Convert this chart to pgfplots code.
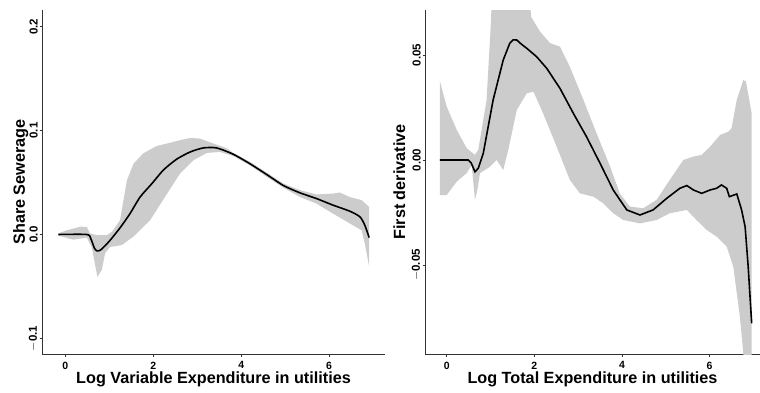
\documentclass[border=0pt]{standalone}
\usepackage{fontspec}
\setmainfont{Liberation Sans}
\usepackage{pgfplots}
\pgfplotsset{compat=1.18}
\usepgfplotslibrary{fillbetween}

\definecolor{bandgray}{RGB}{204,204,204}
\definecolor{axisgray}{RGB}{50,50,50}

\pgfplotsset{
  engel/.style={
    scale only axis,
    axis lines=left,
    axis line style={-, draw=axisgray, line width=0.7pt},
    tick align=outside,
    major tick length=2.5pt,
    tick style={draw=axisgray, line width=0.6pt},
    xtick={0,2,4,6},
    scaled x ticks=false,
    scaled y ticks=false,
    /pgf/number format/assume math mode=true,
    yticklabel style={font=\fontsize{11.5}{13}\selectfont\bfseries, rotate=90, anchor=south, inner sep=1.5pt},
    xticklabel style={font=\fontsize{10.5}{12}\selectfont\bfseries, anchor=north, inner sep=0pt},
    xticklabel shift=5pt,
    label style={font=\fontsize{16.2}{18}\selectfont\bfseries, inner sep=0pt},
    xlabel style={at={(axis description cs:0.5,0)}, anchor=base, yshift=-29pt},
    clip=true,
  }
}

\begin{document}
\begin{tikzpicture}

% Engel curve of the sewerage share
\begin{axis}[engel,
  at={(42pt,38pt)}, anchor=south west,
  width=343pt, height=344pt,
  xmin=-0.53, xmax=7.27, ymin=-0.115, ymax=0.216,
  ytick={-0.1,0,0.1,0.2},
  yticklabels={$-$0.1,0.0,0.1,0.2},
  xlabel={Log Variable Expenditure in utilities},
  ylabel={Share Sewerage},
  ylabel style={at={(axis description cs:-0.0496,0.5)}, anchor=base},
]
\addplot[name path=upA, draw=none] table {
-0.16 0.001
0.03 0.004
0.34 0.0075
0.49 0.0073
0.56 0.001
0.72 -0.0007
0.94 -0.0007
1.06 0.0025
1.245 0.0138
1.40 0.052
1.55 0.068
1.77 0.078
2.08 0.0852
2.31 0.0875
2.61 0.0907
2.84 0.0929
3.06 0.0923
3.37 0.0875
3.67 0.083
3.82 0.0785
4.20 0.070
4.58 0.0595
4.96 0.049
5.34 0.0426
5.71 0.0385
6.09 0.0394
6.24 0.0404
6.47 0.036
6.74 0.033
6.91 0.0265
};
\addplot[name path=loA, draw=none] table {
-0.16 -0.001
0.18 -0.005
0.49 -0.003
0.60 -0.012
0.73 -0.0408
0.83 -0.034
0.905 -0.018
1.02 -0.012
1.28 -0.0103
1.55 -0.002
1.93 0.0138
2.31 0.039
2.61 0.0587
2.91 0.0714
3.22 0.0785
3.52 0.0794
3.82 0.0755
4.20 0.0666
4.58 0.0555
4.96 0.045
5.34 0.036
5.71 0.0298
6.09 0.020
6.47 0.0106
6.74 0.004
6.81 -0.0087
6.91 -0.031
};
\addplot[fill=bandgray, draw=none] fill between[of=upA and loA];
\addplot[black, line width=1.6pt, smooth, tension=0.4] table {
-0.16 0
0.49 0
0.58 -0.004
0.66 -0.013
0.72 -0.0158
0.80 -0.015
0.90 -0.011
1.02 -0.0055
1.245 0.0064
1.47 0.020
1.70 0.036
1.97 0.049
2.23 0.062
2.53 0.0724
2.84 0.0794
3.14 0.0833
3.44 0.0833
3.82 0.0772
4.20 0.068
4.58 0.0577
4.96 0.0471
5.34 0.040
5.71 0.0346
6.09 0.0282
6.47 0.0224
6.70 0.017
6.81 0.009
6.91 -0.003
};
\end{axis}

% First derivative of the Engel curve
\begin{axis}[engel,
  at={(425pt,38pt)}, anchor=south west,
  width=335pt, height=344pt,
  xmin=-0.495, xmax=7.15, ymin=-0.0924, ymax=0.0714,
  ytick={-0.05,0,0.05},
  yticklabels={$-$0.05,0.00,0.05},
  xlabel={Log Total Expenditure in utilities},
  ylabel={First derivative},
  ylabel style={at={(axis description cs:-0.0597,0.5)}, anchor=base},
]
\addplot[name path=upB, draw=none] table {
-0.153 0.0373
0.00 0.0254
0.23 0.0143
0.456 0.0056
0.645 0.0024
0.72 0.0048
0.91 0.0286
1.00 0.062
1.05 0.085
1.85 0.085
1.93 0.068
2.13 0.0611
2.36 0.0556
2.585 0.054
2.81 0.0444
3.12 0.0286
3.42 0.0127
3.73 -0.0032
3.95 -0.0159
4.18 -0.0222
4.485 -0.023
4.79 -0.019
5.09 -0.0095
5.40 0.0
5.63 0.0016
5.82 0.0024
6.01 0.0063
6.24 0.0119
6.43 0.0135
6.50 0.0151
6.62 0.0286
6.77 0.0381
6.83 0.0373
6.96 0.0222
};
\addplot[name path=loB, draw=none] table {
-0.153 -0.0167
0.00 -0.0167
0.23 -0.0103
0.456 -0.0063
0.57 -0.0024
0.645 -0.019
0.70 -0.0143
0.76 -0.0063
0.99 -0.0032
1.14 0.0
1.29 -0.0048
1.405 0.0048
1.60 0.0238
1.825 0.0317
1.98 0.0325
2.20 0.0222
2.51 0.0063
2.81 -0.0095
3.04 -0.0159
3.35 -0.0175
3.57 -0.0206
3.80 -0.0254
4.03 -0.0286
4.41 -0.0302
4.79 -0.0286
5.09 -0.0254
5.48 -0.0238
5.70 -0.0286
5.93 -0.0333
6.16 -0.0365
6.39 -0.0413
6.54 -0.0508
6.69 -0.0746
6.77 -0.0924
6.85 -0.11
6.96 -0.11
};
\addplot[fill=bandgray, draw=none] fill between[of=upB and loB];
\addplot[black, line width=1.6pt] table {
-0.153 0
0.49 0
0.56 -0.0015
0.645 -0.0056
0.72 -0.004
0.835 0.0032
1.06 0.0286
1.29 0.0476
1.44 0.0556
1.52 0.0572
1.60 0.0571
1.70 0.0552
1.825 0.0532
2.05 0.0492
2.28 0.0437
2.585 0.0341
2.89 0.0222
3.19 0.0111
3.50 -0.0016
3.80 -0.0143
4.11 -0.0238
4.41 -0.0262
4.71 -0.0238
5.02 -0.0183
5.32 -0.0135
5.48 -0.0122
5.63 -0.0143
5.82 -0.0159
6.01 -0.0143
6.16 -0.0135
6.27 -0.0119
6.39 -0.0135
6.45 -0.0175
6.62 -0.0162
6.73 -0.0238
6.81 -0.0318
6.88 -0.0508
6.96 -0.0778
};
\end{axis}

% fixed page frame
\pgfresetboundingbox
\path[use as bounding box] (0pt,0pt) rectangle (760pt,392pt);
\end{tikzpicture}
\end{document}
